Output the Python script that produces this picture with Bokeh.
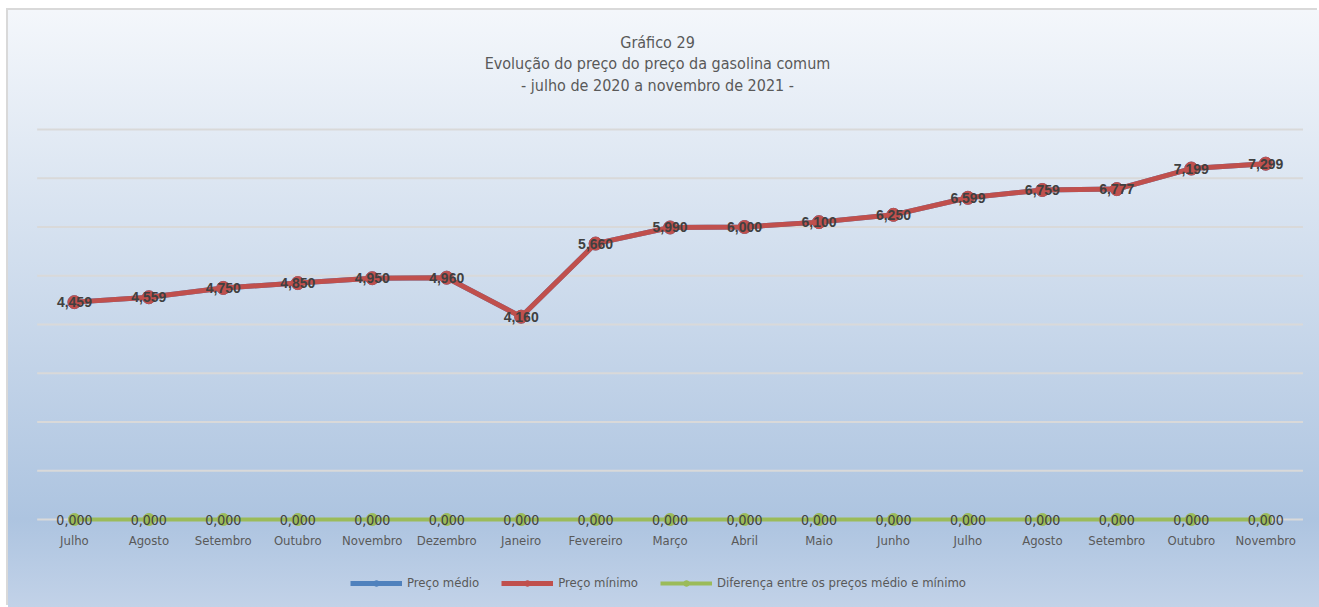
from bokeh.plotting import figure
from bokeh.models import Range1d, Label, Legend, LegendItem, ColumnDataSource
from bokeh.core.properties import value
from bokeh.embed import file_html
from bokeh.resources import INLINE

meses = ["Julho", "Agosto", "Setembro", "Outubro", "Novembro", "Dezembro", "Janeiro",
         "Fevereiro", "Março", "Abril", "Maio", "Junho", "Julho", "Agosto", "Setembro",
         "Outubro", "Novembro"]
preco_medio = [4.459, 4.559, 4.750, 4.850, 4.950, 4.960, 4.160, 5.660, 5.990, 6.000,
               6.100, 6.250, 6.599, 6.759, 6.777, 7.199, 7.299]
preco_minimo = [4.459, 4.559, 4.750, 4.850, 4.950, 4.960, 4.160, 5.660, 5.990, 6.000,
                6.100, 6.250, 6.599, 6.759, 6.777, 7.199, 7.299]
diferenca = [0.000, 0.000, 0.000, 0.000, 0.000, 0.000, 0.000, 0.000, 0.000, 0.000,
             0.000, 0.000, 0.000, 0.000, 0.000, 0.000, 0.000]
y_ticks = [0, 1, 2, 3, 4, 5, 6, 7, 8]
titulo = ["Gráfico 29",
          "Evolução do preço do preço da gasolina comum",
          "- julho de 2020 a novembro de 2021 -"]
series_nomes = ["Preço médio", "Preço mínimo", "Diferença entre os preços médio e mínimo"]

NARROW = "DejaVu Sans Condensed"
REG = "Liberation Sans"
AZUL, VERMELHO, VERDE = "#4f81bd", "#c0504d", "#9bbb59"
CINZA_TXT, CINZA_LAB = "#595959", "#404040"


def fmt(v):
    return f"{v:.3f}".replace(".", ",")


n = len(meses)
idx = list(range(n))
src = ColumnDataSource(dict(
    x=idx,
    medio=preco_medio,
    minimo=preco_minimo,
    dif=diferenca,
    lab_min=[fmt(v) for v in preco_minimo],
    lab_dif=[fmt(v) for v in diferenca],
    base=[0] * n,
    mes=meses,
))
grid_src = ColumnDataSource(dict(
    y=y_ticks,
    x0=[-0.5] * len(y_ticks),
    x1=[n - 0.5] * len(y_ticks),
))

p = figure(width=1311, height=597,
           x_range=Range1d(-0.885, 16.722),
           y_range=Range1d(-1.805, 10.441),
           output_backend="svg", toolbar_location=None,
           x_axis_location=None, y_axis_location=None,
           min_border=0)

p.background_fill_alpha = 0
p.border_fill_alpha = 0
p.outline_line_color = None
p.xgrid.visible = False
p.ygrid.visible = False
p.styles = {
    "background": "linear-gradient(to bottom, #f4f7fb 0%, #adc4e0 85.3%, #c2d2e8 100%)",
    "margin-top": "10px",
    "margin-left": "8px",
    "box-shadow": "-2px -2px 0 0 #d9d9d9",
}

# gridlines
p.segment("x0", "y", "x1", "y", source=grid_src, line_color="#d9d9d9", line_width=2)

# series
l_med = p.line("x", "medio", source=src, line_color=AZUL, line_width=5)
s_med = p.scatter("x", "medio", source=src, size=13, fill_color=AZUL, line_color=AZUL)
l_min = p.line("x", "minimo", source=src, line_color=VERMELHO, line_width=5)
s_min = p.scatter("x", "minimo", source=src, size=13, fill_color=VERMELHO, line_color=VERMELHO)
l_dif = p.line("x", "dif", source=src, line_color=VERDE, line_width=4)
s_dif = p.scatter("x", "dif", source=src, size=12, fill_color=VERDE, line_color=VERDE)

# data labels
p.text("x", "minimo", text="lab_min", source=src, text_align="center", text_baseline="middle",
       text_font=value(REG), text_font_size="14px", text_font_style="bold", text_color=CINZA_LAB)
p.text("x", "dif", text="lab_dif", source=src, text_align="center", text_baseline="middle",
       text_font=value(NARROW), text_font_size="14px", text_color=CINZA_LAB)

# category labels (x axis)
p.text("x", "base", text="mes", source=src, text_align="center", text_baseline="middle",
       y_offset=21, text_font=value(NARROW), text_font_size="13px", text_color=CINZA_TXT)

# title
for t, yy in zip(titulo, [565, 544, 522]):
    p.add_layout(Label(x=649, y=yy, x_units="screen", y_units="screen", text=t,
                       text_align="center", text_baseline="middle",
                       text_font=NARROW, text_font_size="16px", text_color=CINZA_TXT))

legend = Legend(items=[
    LegendItem(label=series_nomes[0], renderers=[l_med, s_med]),
    LegendItem(label=series_nomes[1], renderers=[l_min, s_min]),
    LegendItem(label=series_nomes[2], renderers=[l_dif, s_dif]),
], location=(342, 17), orientation="horizontal")
legend.background_fill_alpha = 0
legend.border_line_color = None
legend.padding = 0
legend.margin = 0
legend.spacing = 22
legend.glyph_width = 52
legend.glyph_height = 14
legend.label_standoff = 5
legend.label_text_font = NARROW
legend.label_text_font_size = "13px"
legend.label_text_color = CINZA_TXT
p.add_layout(legend)

open("out.html", "w").write(file_html(p, INLINE))
